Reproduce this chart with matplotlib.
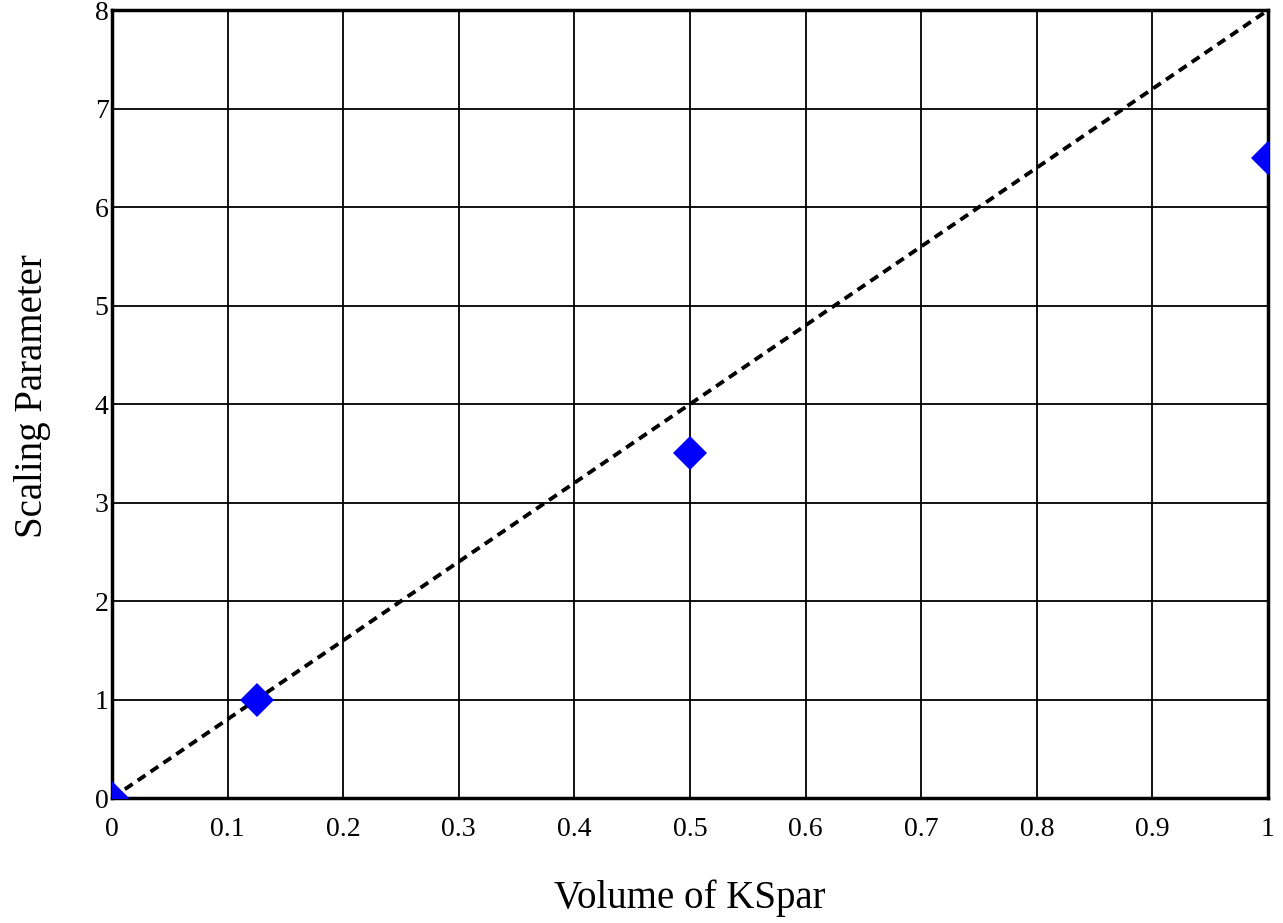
import matplotlib
matplotlib.use("Agg")
import matplotlib.pyplot as plt

# measured points
volume = [0.0, 0.125, 0.5, 1.0]
scaling = [0.0, 1.0, 3.5, 6.5]

# reference line
fit_x = [0.0, 1.0]
fit_y = [0.0, 8.0]

x_ticks = [0, 0.1, 0.2, 0.3, 0.4, 0.5, 0.6, 0.7, 0.8, 0.9, 1]
x_labels = ["0", "0.1", "0.2", "0.3", "0.4", "0.5", "0.6", "0.7", "0.8", "0.9", "1"]
y_ticks = [0, 1, 2, 3, 4, 5, 6, 7, 8]

plt.rcParams["font.family"] = ["Liberation Serif", "DejaVu Serif"]

fig = plt.figure(figsize=(12.83, 9.23), dpi=100)
ax = fig.add_axes([0.0873, 0.1354, 0.9010, 0.8536])

ax.plot(fit_x, fit_y, color="black", linewidth=2.8, linestyle=(0, (2.4, 1.6)), zorder=3)
ax.plot(volume, scaling, linestyle="none", marker="D", markersize=17.5,
        color="#0000ff", markeredgewidth=0, zorder=4, clip_on=True)

ax.set_xlim(0, 1)
ax.set_ylim(0, 8)
ax.set_xticks(x_ticks)
ax.set_xticklabels(x_labels)
ax.set_yticks(y_ticks)
ax.grid(True, color="black", linewidth=1.3)
ax.set_axisbelow(True)
ax.tick_params(length=0, labelsize=20)
ax.tick_params(axis="x", pad=14)
ax.tick_params(axis="y", pad=2.5)

for s in ax.spines.values():
    s.set_linewidth(2.5)

ax.set_xlabel("Volume of KSpar", fontsize=28, va="baseline")
ax.xaxis.set_label_coords(0.5, -0.1396)
ax.set_ylabel("Scaling Parameter", fontsize=28, va="center")
ax.yaxis.set_label_coords(-0.0692, 0.51)

fig.savefig("out.png", dpi=100)
